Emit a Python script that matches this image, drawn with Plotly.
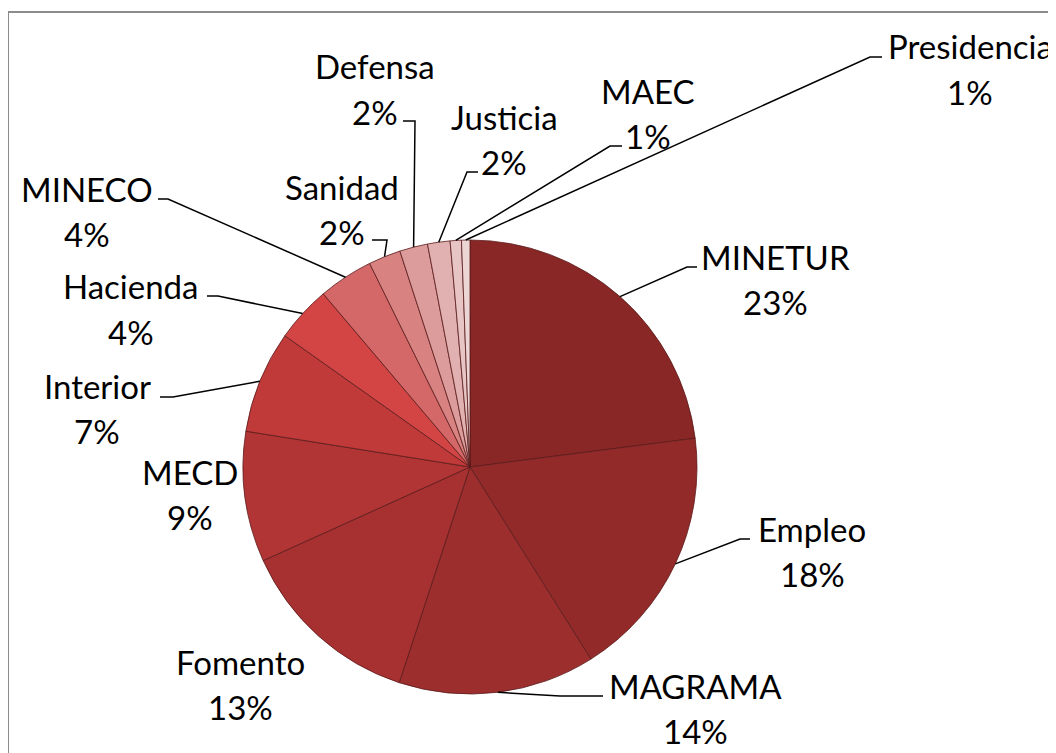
import math
import plotly.graph_objects as go

# ---- data ----
ministries = ["MINETUR", "Empleo", "MAGRAMA", "Fomento", "MECD", "Interior",
              "Hacienda", "MINECO", "Sanidad", "Defensa", "Justicia", "MAEC",
              "Presidencia"]
shares = [23.0, 18.1, 14.0, 13.2, 9.3, 7.3, 4.0, 3.9, 2.3, 2.0, 1.6, 0.8, 0.6]

# ---- style ----
colors = ["#892727", "#922a2a", "#9c2e2e", "#a73131", "#b23535", "#c13a3a",
          "#d34444", "#d46767", "#d88282", "#dc9c9c", "#e1b1b1", "#e7c5c5",
          "#ecd5d5"]

W, H = 1056, 753
OFF = 8  # page body margin in the browser
CX, CY, R = 470, 467, 227  # pie centre / radius in screen pixels

# label layout: (centre x, baseline of name, baseline of percent)
label_pos = [(775, 268, 313), (812, 540, 585), (695, 697, 742), (240, 673, 718),
             (190, 483, 528), (97, 397, 442), (131, 297, 343), (87, 200, 245),
             (342, 198, 243), (375, 77, 123), (504, 128, 173), (648, 102, 147),
             (970, 57, 103)]
# leader lines: (elbow, end) in pixels, None = no line
leaders = [((687, 267), (697, 267)), ((740, 539), (750, 539)),
           ((560, 696), (603, 696)), None, None,
           ((173, 397), (160, 397)), ((218, 296), (207, 296)),
           ((168, 199), (158, 199)), ((387, 240), (372, 240)),
           ((415, 121), (403, 121)), ((467, 172), (478, 172)),
           ((610, 146), (622, 146)), ((870, 57), (882, 57))]


def px(x):
    return (x - OFF) / W


def py(y):
    return 1 - (y - OFF) / H


fig = go.Figure()
fig.add_trace(go.Pie(
    labels=ministries, values=shares, sort=False, direction="clockwise",
    rotation=0, textinfo="none", hoverinfo="label+percent",
    marker=dict(colors=colors, line=dict(color="#5a1a1a", width=0.8)),
    domain=dict(x=[px(CX - R), px(CX + R)], y=[py(CY + R), py(CY - R)]),
    showlegend=False,
))

total = sum(shares)
FONT = dict(family="Lato, Open Sans, sans-serif", size=33, color="black")
annotations = []
shapes = []
cum = 0.0
for name, v, (lx, nb, pb), ld in zip(ministries, shares, label_pos, leaders):
    frac = v / total
    mid = (cum + frac / 2) * 2 * math.pi
    cum += frac
    pct = f"{round(frac * 100):.0f}%"
    annotations.append(dict(x=px(lx), y=py(nb - 11), xref="paper", yref="paper",
                            text=name, showarrow=False, font=FONT,
                            xanchor="center", yanchor="middle"))
    annotations.append(dict(x=px(lx), y=py(pb - 11), xref="paper", yref="paper",
                            text=pct, showarrow=False, font=FONT,
                            xanchor="center", yanchor="middle"))
    if ld is not None:
        sx = CX + R * math.sin(mid)
        sy = CY - R * math.cos(mid)
        (ex, ey), (tx, ty) = ld
        path = f"M {px(sx)} {py(sy)} L {px(ex)} {py(ey)} L {px(tx)} {py(ty)}"
        shapes.append(dict(type="path", path=path, xref="paper", yref="paper",
                           line=dict(color="black", width=1.5)))

# outer border of the chart area
shapes.append(dict(type="rect", xref="paper", yref="paper",
                   x0=px(8), y0=py(12), x1=1.02, y1=-0.02,
                   line=dict(color="#8c8c8c", width=2), fillcolor="rgba(0,0,0,0)"))

fig.update_layout(
    width=W, height=H, margin=dict(l=0, r=0, t=0, b=0),
    paper_bgcolor="white", plot_bgcolor="white",
    annotations=annotations, shapes=shapes,
)
fig.write_html("out.html")
